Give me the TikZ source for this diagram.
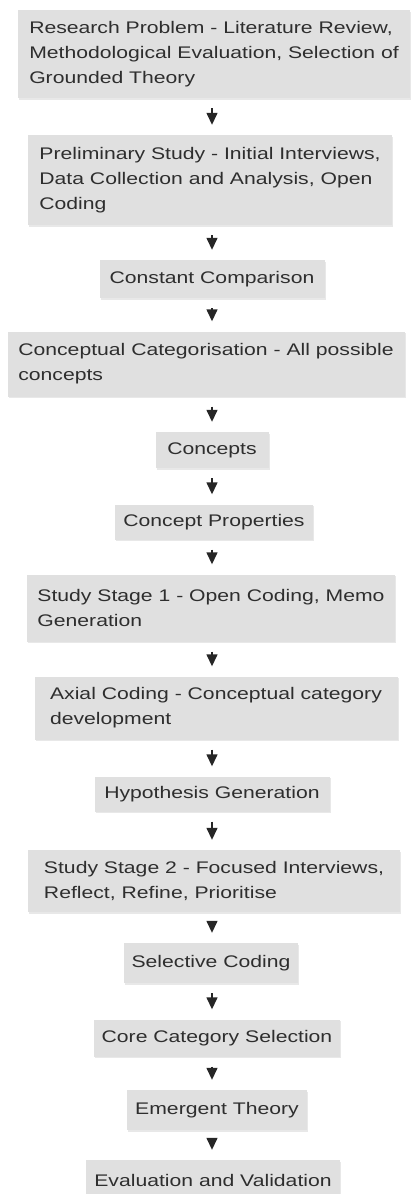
\documentclass[tikz,border=0pt]{standalone}
\usepackage{fontspec}
\setmainfont{Liberation Sans}[FakeStretch=1.26]
\usepackage{tikz}
\usetikzlibrary{arrows.meta,shadows}

\tikzset{
  stage/.style={fill=black!12, text=black!82, inner xsep=8pt, inner ysep=0pt,
    align=left, font=\fontsize{16.8}{25}\selectfont,
    drop shadow={opacity=0.18, shadow xshift=1pt, shadow yshift=-1.5pt}},
  flow/.style={-{Triangle[width=11pt,length=12pt]}, line width=1.4pt, black!85,
    shorten <=10pt, shorten >=10pt}
}

\begin{document}
\begin{tikzpicture}[x=1pt, y=-1pt]

  \useasboundingbox (0, 0) rectangle (410, 1194);

  \node[stage, minimum width=392pt, minimum height=88pt] (problem) at (214, 54)
    {Research Problem - Literature Review,\\ Methodological Evaluation, Selection of\\ Grounded Theory};
  \node[stage, minimum width=364pt, minimum height=90pt] (prelim) at (210, 180)
    {Preliminary Study - Initial Interviews,\\ Data Collection and Analysis, Open\\ Coding};
  \node[stage, minimum width=225pt, minimum height=38pt] (compare) at (212, 279) {Constant Comparison};
  \node[stage, minimum width=397pt, minimum height=65pt] (categ) at (206, 364)
    {Conceptual Categorisation - All possible\\ concepts};
  \node[stage, minimum width=113pt, minimum height=36pt] (concepts) at (212, 450) {Concepts};
  \node[stage, minimum width=198pt, minimum height=35pt] (props) at (214, 522) {Concept Properties};
  \node[stage, minimum width=368pt, minimum height=67pt] (stage1) at (211, 608)
    {Study Stage 1 - Open Coding, Memo\\ Generation};
  \node[stage, minimum width=363pt, minimum height=63pt] (axial) at (216, 708)
    {Axial Coding - Conceptual category\\ development};
  \node[stage, minimum width=235pt, minimum height=35pt] (hypo) at (212, 794) {Hypothesis Generation};
  \node[stage, minimum width=372pt, minimum height=62pt] (stage2) at (214, 881)
    {Study Stage 2 - Focused Interviews,\\ Reflect, Refine, Prioritise};
  \node[stage, minimum width=174pt, minimum height=40pt] (selective) at (211, 963) {Selective Coding};
  \node[stage, minimum width=245pt, minimum height=37pt] (core) at (217, 1038) {Core Category Selection};
  \node[stage, minimum width=175pt, minimum height=40pt] (emergent) at (217, 1110) {Emergent Theory};
  \node[stage, minimum width=250pt, minimum height=40pt] (evaluation) at (213, 1180) {Evaluation and Validation};

  \foreach \a/\b in {problem/prelim, prelim/compare, compare/categ, categ/concepts,
      concepts/props, props/stage1, stage1/axial, axial/hypo, hypo/stage2,
      stage2/selective, selective/core, core/emergent, emergent/evaluation}
    \draw [flow] (\a.south -| 212, 0) -- (\b.north -| 212, 0);

\end{tikzpicture}
\end{document}
